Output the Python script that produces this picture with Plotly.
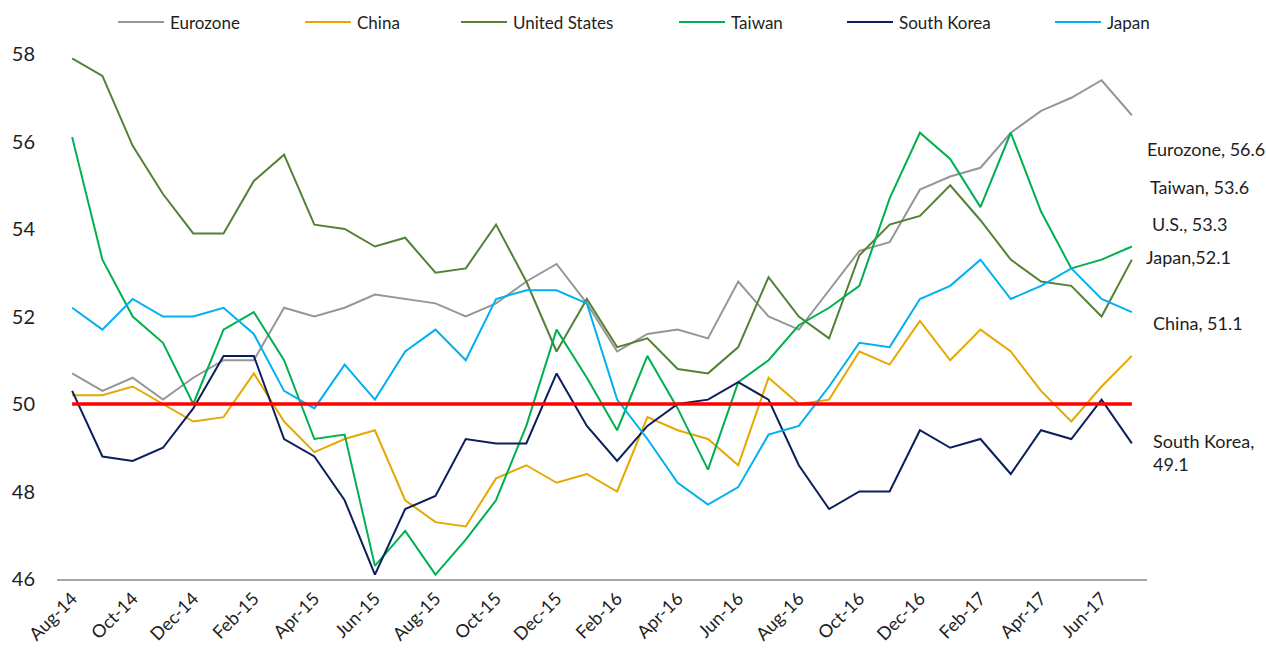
"""
PMI comparison chart — Eurozone, China, US, Taiwan, South Korea, Japan.
Monthly readings Aug-14 to Jul-17 with the 50 expansion/contraction line.
"""

import plotly.graph_objects as go

# ── Data ──────────────────────────────────────────────────────────────────────
months = [
    "Aug-14", "Sep-14", "Oct-14", "Nov-14", "Dec-14",
    "Jan-15", "Feb-15", "Mar-15", "Apr-15", "May-15", "Jun-15",
    "Jul-15", "Aug-15", "Sep-15", "Oct-15", "Nov-15", "Dec-15",
    "Jan-16", "Feb-16", "Mar-16", "Apr-16", "May-16", "Jun-16",
    "Jul-16", "Aug-16", "Sep-16", "Oct-16", "Nov-16", "Dec-16",
    "Jan-17", "Feb-17", "Mar-17", "Apr-17", "May-17", "Jun-17", "Jul-17",
]
tick_labels = months[::2]

eurozone = [50.7, 50.3, 50.6, 50.1, 50.6, 51.0, 51.0, 52.2, 52.0, 52.2, 52.5,
            52.4, 52.3, 52.0, 52.3, 52.8, 53.2, 52.3, 51.2, 51.6, 51.7, 51.5,
            52.8, 52.0, 51.7, 52.6, 53.5, 53.7, 54.9, 55.2, 55.4, 56.2, 56.7,
            57.0, 57.4, 56.6]
china = [50.2, 50.2, 50.4, 50.0, 49.6, 49.7, 50.7, 49.6, 48.9, 49.2, 49.4,
         47.8, 47.3, 47.2, 48.3, 48.6, 48.2, 48.4, 48.0, 49.7, 49.4, 49.2,
         48.6, 50.6, 50.0, 50.1, 51.2, 50.9, 51.9, 51.0, 51.7, 51.2, 50.3,
         49.6, 50.4, 51.1]
united_states = [57.9, 57.5, 55.9, 54.8, 53.9, 53.9, 55.1, 55.7, 54.1, 54.0, 53.6,
                 53.8, 53.0, 53.1, 54.1, 52.8, 51.2, 52.4, 51.3, 51.5, 50.8, 50.7,
                 51.3, 52.9, 52.0, 51.5, 53.4, 54.1, 54.3, 55.0, 54.2, 53.3, 52.8,
                 52.7, 52.0, 53.3]
taiwan = [56.1, 53.3, 52.0, 51.4, 50.0, 51.7, 52.1, 51.0, 49.2, 49.3, 46.3,
          47.1, 46.1, 46.9, 47.8, 49.5, 51.7, 50.6, 49.4, 51.1, 49.9, 48.5,
          50.5, 51.0, 51.8, 52.2, 52.7, 54.7, 56.2, 55.6, 54.5, 56.2, 54.4,
          53.1, 53.3, 53.6]
south_korea = [50.3, 48.8, 48.7, 49.0, 49.9, 51.1, 51.1, 49.2, 48.8, 47.8, 46.1,
               47.6, 47.9, 49.2, 49.1, 49.1, 50.7, 49.5, 48.7, 49.5, 50.0, 50.1,
               50.5, 50.1, 48.6, 47.6, 48.0, 48.0, 49.4, 49.0, 49.2, 48.4, 49.4,
               49.2, 50.1, 49.1]
japan = [52.2, 51.7, 52.4, 52.0, 52.0, 52.2, 51.6, 50.3, 49.9, 50.9, 50.1,
         51.2, 51.7, 51.0, 52.4, 52.6, 52.6, 52.3, 50.1, 49.2, 48.2, 47.7,
         48.1, 49.3, 49.5, 50.4, 51.4, 51.3, 52.4, 52.7, 53.3, 52.4, 52.7,
         53.1, 52.4, 52.1]
THRESHOLD = 50

series = [
    ("Eurozone", eurozone, "#969696"),
    ("China", china, "#E6A800"),
    ("United States", united_states, "#538135"),
    ("Taiwan", taiwan, "#00B050"),
    ("South Korea", south_korea, "#0B1F5C"),
    ("Japan", japan, "#00B0F0"),
]

# end-of-line labels: (text, left px, centre px)
end_labels = [
    ("Eurozone, 56.6", 1145, 149),
    ("Taiwan, 53.6", 1148, 187),
    ("U.S., 53.3", 1150, 224),
    ("Japan,52.1", 1144, 257),
    ("China, 51.1", 1151, 323),
    ("South Korea,<br>49.1", 1151, 452),
]

# legend entries: left edge of sample line in px
legend_x = [118, 305, 461, 679, 847, 1055]

# ── Layout helpers (pixel -> paper) ──────────────────────────────────────────
W, H = 1266, 656
ML, MR, MT, MB = 57, 119, 54, 77
PW, PH = W - ML - MR, H - MT - MB
FONT = "Lato, 'Open Sans', sans-serif"
TXT = "#1e1e1e"


def px_x(x):
    return (x - ML) / PW


def px_y(y):
    return (H - MB - y) / PH


fig = go.Figure()
for name, vals, col in series:
    fig.add_trace(go.Scatter(x=months, y=vals, mode="lines", name=name,
                             line=dict(color=col, width=2), showlegend=False))

# ── 50 line ──────────────────────────────────────────────────────────────────
fig.add_trace(go.Scatter(x=[months[0], months[-1]], y=[THRESHOLD, THRESHOLD],
                         mode="lines", line=dict(color="#FF0000", width=3.5),
                         showlegend=False, hoverinfo="skip"))

annotations = []
shapes = []
# ── Manual legend (Excel-style spacing) ──────────────────────────────────────
for (name, _, col), lx in zip(series, legend_x):
    shapes.append(dict(type="line", xref="paper", yref="paper",
                       x0=px_x(lx), x1=px_x(lx + 46), y0=px_y(22), y1=px_y(22),
                       line=dict(color=col, width=2)))
    annotations.append(dict(text=name, xref="paper", yref="paper",
                            x=px_x(lx + 50), y=px_y(22), xanchor="left",
                            yanchor="middle", showarrow=False,
                            font=dict(family=FONT, size=17, color=TXT)))

for text, lx, ly in end_labels:
    annotations.append(dict(text=text, xref="paper", yref="paper",
                            x=px_x(lx), y=px_y(ly), xanchor="left",
                            yanchor="middle", align="left", showarrow=False,
                            font=dict(family=FONT, size=18, color=TXT)))

fig.update_layout(
    width=W, height=H,
    margin=dict(l=ML, r=MR, t=MT, b=MB, autoexpand=False),
    paper_bgcolor="white", plot_bgcolor="white",
    font=dict(family=FONT, color=TXT),
    showlegend=False,
    annotations=annotations, shapes=shapes,
    xaxis=dict(type="category", range=[-0.5, len(months) - 0.5],
               tickvals=tick_labels, ticktext=tick_labels, tickangle=-45,
               tickfont=dict(size=18, color=TXT), showgrid=False,
               showline=True, linecolor="#A6A6A6", linewidth=2, ticks="",
               automargin=False),
    yaxis=dict(range=[46, 58], tickvals=[46, 48, 50, 52, 54, 56, 58],
               tickfont=dict(size=20, color=TXT), showgrid=False,
               zeroline=False, showline=False, ticks="", ticklabelstandoff=21,
               automargin=False),
)

# page body has a default 8px margin; drop it so the figure sits at 0,0
fig.write_html("out.html", config={"displayModeBar": False},
               post_script="document.body.style.margin='0';")
